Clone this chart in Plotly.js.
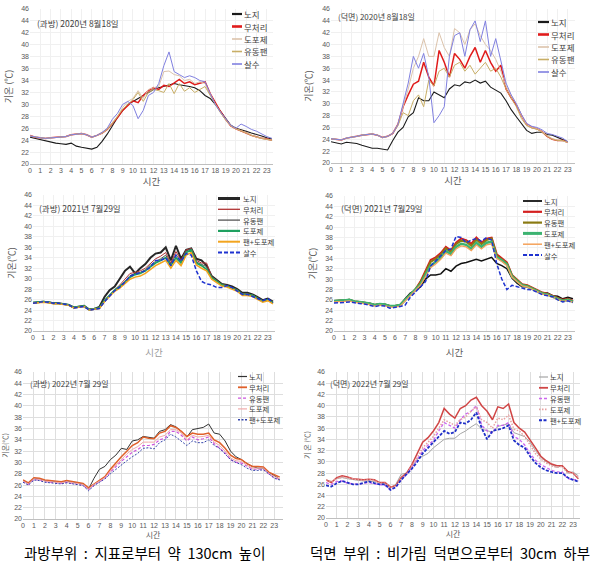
<!DOCTYPE html>
<html><head><meta charset="utf-8">
<script src="https://cdn.plot.ly/plotly-3.0.1.min.js"></script>
<style>html,body{margin:0;padding:0;background:#fff}#chart{width:597px;height:565px}</style>
</head><body><div id="chart"></div>
<script>
// ---------- DATA ----------
const hours = [0,0.5,1,1.5,2,2.5,3,3.5,4,4.5,5,5.5,6,6.5,7,7.5,8,8.5,9,9.5,10,10.5,11,11.5,12,12.5,13,13.5,14,14.5,15,15.5,16,16.5,17,17.5,18,18.5,19,19.5,20,20.5,21,21.5,22,22.5,23,23.5];
const xTicks = [0,1,2,3,4,5,6,7,8,9,10,11,12,13,14,15,16,17,18,19,20,21,22,23];
const yTicks = [20,22,24,26,28,30,32,34,36,38,40,42,44,46];

// 2020-08-18 과방
const c1Names = ['노지','무처리','도포제','유동팬','살수'];
const c1_noji = [24.5,24.3,24.0,23.8,23.6,23.5,23.4,23.3,23.5,23.0,22.8,22.7,22.5,22.8,23.8,25.0,26.5,27.8,29.0,30.0,30.5,31.0,31.5,32.0,32.5,32.8,33.0,33.2,33.5,33.3,33.2,33.0,32.8,32.3,31.5,31.0,30.0,28.8,27.5,26.5,26.0,25.8,25.5,25.2,25.0,24.7,24.4,24.2];
const c1_red  = [24.8,24.5,24.4,24.3,24.4,24.5,24.6,24.6,24.9,25.0,25.1,24.9,24.5,24.8,25.2,25.8,26.8,27.8,29.0,29.8,30.6,30.3,31.5,32.3,32.8,32.5,33.2,33.0,33.6,34.2,33.5,33.8,33.3,33.5,33.8,31.8,30.2,28.8,27.5,26.4,25.9,25.6,25.2,24.8,24.5,24.3,24.2,24.0];
const c1_dopo = [24.7,24.5,24.4,24.3,24.4,24.5,24.6,24.6,24.9,25.0,25.1,24.9,24.5,24.8,25.2,25.8,27.0,28.0,29.5,30.5,31.0,32.3,31.0,32.5,32.8,33.0,35.5,35.6,35.0,34.8,34.0,34.2,33.5,33.8,33.5,31.8,30.0,28.7,27.4,26.4,25.9,25.6,25.2,24.8,24.5,24.3,24.1,24.0];
const c1_fan  = [24.7,24.5,24.4,24.3,24.4,24.5,24.6,24.6,24.9,25.0,25.1,24.9,24.5,24.8,25.2,25.8,26.8,28.0,29.2,30.0,30.8,32.0,30.5,32.0,32.5,32.3,32.0,33.5,31.8,33.5,32.2,32.8,32.0,32.5,33.0,31.5,30.0,28.6,27.4,26.4,25.9,25.6,25.2,24.8,24.5,24.3,24.1,24.0];
const c1_sal  = [24.7,24.5,24.4,24.3,24.4,24.5,24.6,24.6,24.9,25.0,25.1,24.9,24.5,24.8,25.3,26.0,27.5,28.5,30.0,30.5,29.8,27.6,29.0,31.5,32.0,33.5,36.5,38.8,35.5,35.0,34.5,34.8,34.5,34.0,33.8,31.8,30.0,28.7,27.5,26.5,26.0,26.7,26.3,25.8,25.5,25.0,24.6,24.3];

// 2020-08-18 덕면
const c2Names = ['노지','무처리','도포제','유동팬','살수'];
const c2_noji = [23.6,23.4,23.2,23.5,23.4,23.3,23.0,22.8,22.5,22.5,22.4,22.2,23.8,25.2,26.0,27.8,28.5,31.0,30.5,30.5,32.0,31.5,31.0,32.5,33.2,33.0,33.7,33.5,34.0,33.5,33.8,32.8,32.3,31.8,30.5,29.0,27.8,26.6,25.5,25.0,25.2,25.2,24.8,24.7,24.3,24.0,23.6,null];
const c2_red  = [24.1,24.0,23.9,24.2,24.3,24.5,24.7,24.8,24.9,24.7,24.3,24.5,25.0,26.5,29.5,31.5,33.3,33.8,37.0,34.5,33.0,39.0,37.0,34.5,38.5,37.5,36.0,38.0,39.5,37.0,39.0,37.0,35.5,36.5,32.5,31.0,29.8,28.0,26.5,26.0,25.8,25.3,24.5,24.0,23.8,23.8,23.5,null];
const c2_dopo = [24.1,24.0,23.9,24.2,24.3,24.5,24.7,24.8,24.9,24.7,24.3,24.5,25.0,26.5,29.5,32.5,36.0,38.0,41.0,38.0,38.0,42.0,39.5,38.0,42.7,42.0,40.0,42.5,43.5,41.5,40.0,39.0,37.5,35.5,33.0,31.5,30.0,28.0,26.5,26.0,25.8,25.3,24.6,24.1,23.9,23.8,23.5,null];
const c2_fan  = [24.1,24.0,23.9,24.2,24.3,24.5,24.7,24.8,24.9,24.7,24.3,24.5,25.0,26.3,28.5,28.0,30.5,31.5,29.5,34.0,33.0,35.5,36.0,34.5,36.5,37.0,35.5,36.5,35.0,36.0,37.0,35.5,36.0,34.5,32.5,31.0,29.5,27.5,26.3,25.9,25.7,25.2,24.5,24.0,23.8,23.8,23.5,null];
const c2_sal  = [24.1,24.0,23.9,24.2,24.3,24.5,24.7,24.8,24.9,24.7,24.3,24.5,25.0,26.5,30.0,33.5,38.0,36.0,38.5,34.5,26.8,28.0,29.5,38.0,41.5,42.0,38.0,42.5,44.0,40.5,44.0,38.0,41.0,37.5,33.5,31.5,30.0,28.2,26.7,26.2,26.0,25.6,25.0,24.8,24.5,24.2,23.6,null];

// 2021-07-29 과방
const c3Names = ['노지','무처리','유동팬','도포제','팬+도포제','살수'];
const c3_noji = [25.4,25.5,25.6,25.5,25.3,25.3,25.2,25.0,24.5,24.7,24.8,24.1,24.2,24.6,26.5,27.8,28.5,30.0,31.5,32.3,31.0,32.0,32.8,34.0,34.8,35.0,36.0,33.5,36.3,33.8,35.5,35.8,33.8,33.5,32.5,30.5,29.8,29.0,28.8,28.5,28.0,27.3,27.3,27.0,26.5,25.9,26.2,25.6];
const c3_red  = [25.4,25.5,25.6,25.5,25.3,25.3,25.2,25.0,24.5,24.7,24.8,24.1,24.2,24.4,25.8,26.9,27.9,28.8,29.8,31.0,31.2,31.5,32.0,33.0,33.8,34.3,35.0,33.0,35.2,33.5,35.5,35.8,33.5,33.0,33.0,30.4,29.7,28.9,28.7,28.3,27.9,27.1,27.1,26.9,26.4,25.8,26.1,25.5];
const c3_fan  = [25.4,25.5,25.6,25.5,25.3,25.3,25.2,25.0,24.5,24.7,24.8,24.1,24.2,24.4,25.8,26.8,27.8,28.6,29.5,30.6,31.0,31.2,31.7,32.6,33.3,33.8,34.5,32.8,34.6,33.2,35.3,35.7,33.2,32.7,32.3,30.3,29.6,28.8,28.6,28.2,27.8,27.0,27.0,26.8,26.3,25.7,26.0,25.4];
const c3_dopo = [25.4,25.5,25.6,25.5,25.3,25.3,25.2,25.0,24.5,24.7,24.8,24.1,24.2,24.4,25.8,26.8,27.8,28.5,29.3,30.3,30.8,31.0,31.5,32.3,33.0,33.5,34.0,32.5,34.0,33.0,35.0,35.5,33.0,32.5,31.8,30.2,29.5,28.8,28.6,28.2,27.8,27.0,27.0,26.8,26.3,25.7,26.0,25.4];
const c3_fd   = [25.3,25.4,25.5,25.4,25.2,25.2,25.1,24.9,24.4,24.6,24.7,24.0,24.1,24.3,25.6,26.6,27.6,28.2,29.0,29.9,30.3,30.5,31.0,31.8,32.5,33.0,33.5,32.0,33.5,32.5,34.5,35.0,32.6,32.0,31.5,29.9,29.3,28.6,28.4,28.0,27.6,26.8,26.8,26.6,26.1,25.5,25.8,25.2];
const c3_sal  = [25.3,25.4,25.6,25.5,25.3,25.3,25.2,25.0,24.4,24.6,24.7,24.0,24.1,24.3,25.6,26.7,27.7,28.4,29.3,30.5,30.8,31.2,31.5,32.2,33.5,33.5,34.0,32.5,34.5,33.3,34.8,34.5,31.5,29.5,29.0,28.8,28.3,28.3,28.7,28.3,27.7,27.0,27.0,26.6,26.2,25.8,26.2,25.4];

// 2021-07-29 덕면
const c4Names = ['노지','무처리','유동팬','도포제','팬+도포제','살수'];
const c4_noji = [25.8,25.8,25.9,26.0,25.7,25.6,25.5,25.3,25.0,25.2,25.1,24.8,24.8,25.0,26.2,27.3,27.8,28.5,30.0,30.8,30.8,31.0,32.0,31.5,32.5,33.0,33.2,33.5,33.8,33.5,33.8,34.2,33.0,32.6,32.0,30.2,29.2,28.5,28.5,28.0,27.6,27.3,27.3,26.8,26.7,26.2,26.5,26.2];
const c4_red  = [25.8,25.8,25.9,26.0,25.7,25.6,25.5,25.3,25.0,25.2,25.1,24.8,24.8,25.0,26.0,27.0,28.0,29.5,31.5,33.7,34.2,35.0,36.2,35.5,37.0,37.8,37.5,36.8,38.0,37.0,37.8,38.0,34.8,34.0,33.2,30.8,29.8,29.0,28.8,28.3,27.8,27.4,27.2,26.8,26.5,26.0,26.2,25.8];
const c4_fan  = [25.8,25.8,25.9,26.0,25.7,25.6,25.5,25.3,25.0,25.2,25.1,24.8,24.8,25.0,26.0,27.0,28.0,29.3,31.2,33.3,33.9,34.7,35.9,35.2,36.7,37.4,37.2,36.4,37.6,36.7,37.5,37.8,34.5,33.8,33.0,30.7,29.7,28.9,28.7,28.2,27.7,27.3,27.1,26.7,26.4,25.9,26.1,25.7];
const c4_dopo = [25.8,25.8,25.9,26.0,25.7,25.6,25.5,25.3,25.0,25.2,25.1,24.8,24.8,25.0,26.0,27.0,28.0,29.0,30.8,32.6,33.3,34.2,35.4,34.8,36.2,36.8,36.6,35.8,37.0,36.2,37.0,37.2,34.2,33.6,32.8,30.5,29.6,28.8,28.6,28.1,27.6,27.2,27.0,26.6,26.3,25.8,26.0,25.6];
const c4_fd   = [25.6,25.6,25.7,25.8,25.5,25.4,25.3,25.1,24.8,25.0,24.9,24.6,24.6,24.8,25.8,26.8,27.8,28.8,30.5,32.2,32.9,33.8,35.0,34.5,35.8,36.4,36.2,35.5,36.6,35.8,36.6,36.8,34.0,33.4,32.6,30.4,29.5,28.7,28.5,28.0,27.5,27.1,26.9,26.5,26.2,25.7,25.9,25.5];
const c4_sal  = [25.4,25.4,25.5,25.6,25.4,25.3,25.2,25.0,24.7,24.9,24.8,24.4,24.5,24.7,25.0,26.5,27.5,28.5,29.5,32.5,33.5,34.5,35.5,35.8,38.2,38.0,37.0,37.5,37.8,37.3,38.0,37.5,33.0,30.0,28.0,28.8,28.5,28.2,28.0,27.9,27.5,27.0,26.8,26.6,26.0,25.6,25.8,25.5];

// 2022-07-29 과방
const c5Names = ['노지','무처리','유동팬','도포제','팬+도포제'];
const c5_noji = [26.8,26.3,27.2,27.1,26.8,26.7,26.6,26.5,26.7,26.5,26.3,26.2,25.3,27.2,28.8,29.3,30.5,31.3,32.5,32.3,33.8,34.0,34.6,34.5,34.3,35.5,35.8,36.7,36.3,35.5,34.5,35.8,36.0,36.2,36.8,35.2,35.0,33.8,32.0,31.0,30.5,29.8,29.3,29.0,29.0,28.2,27.7,27.0];
const c5_red  = [26.9,26.4,27.3,27.2,26.9,26.8,26.7,26.6,26.8,26.6,26.4,26.3,25.5,26.2,26.8,27.5,28.8,30.0,31.0,32.0,33.0,33.5,34.5,34.3,34.2,35.2,35.5,36.5,36.2,35.5,34.6,35.2,35.0,35.0,35.2,34.0,33.5,32.5,31.3,30.7,30.5,29.8,29.3,29.3,29.2,28.3,27.8,27.4];
const c5_fan  = [26.6,26.1,27.0,26.9,26.6,26.5,26.4,26.3,26.5,26.3,26.1,26.0,25.2,26.0,26.6,27.2,28.3,29.3,30.2,31.0,31.8,32.3,33.0,33.0,33.2,34.0,34.3,35.5,35.5,34.8,33.8,34.5,34.0,34.2,34.5,33.3,32.5,31.7,30.5,30.0,29.9,29.3,28.8,28.8,28.8,28.0,27.3,27.0];
const c5_dopo = [26.7,26.2,27.1,27.0,26.7,26.6,26.5,26.4,26.6,26.4,26.2,26.1,25.3,26.1,26.7,27.3,28.5,29.6,30.5,31.5,32.3,32.8,33.6,33.6,33.6,34.5,34.8,35.8,35.8,35.2,34.0,34.8,34.5,34.6,34.8,33.6,33.0,32.0,30.8,30.3,30.2,29.5,29.0,29.0,29.0,28.1,27.5,27.1];
const c5_fd   = [26.5,26.0,26.9,26.8,26.5,26.4,26.3,26.2,26.4,26.2,26.0,25.9,25.0,25.9,26.5,27.1,28.0,28.8,29.5,30.3,31.0,31.6,32.5,32.6,32.4,33.5,34.0,35.0,34.5,33.8,33.0,33.8,33.5,33.5,34.0,33.0,32.5,31.5,30.5,30.0,29.6,29.0,28.6,28.6,28.7,28.0,27.2,26.9];

// 2022-07-29 덕면
const c6Names = ['노지','무처리','유동팬','도포제','팬+도포제'];
const c6_noji = [26.8,26.5,27.0,27.2,27.0,26.8,26.7,26.6,26.6,26.5,26.3,26.0,25.3,26.0,27.8,28.0,29.0,30.5,31.0,31.5,32.5,33.3,34.0,34.2,34.2,35.0,35.5,36.2,36.8,35.8,35.5,35.3,36.3,36.5,36.8,35.2,34.8,34.5,33.5,32.0,30.8,30.0,29.5,29.0,29.3,28.0,28.2,27.5];
const c6_red  = [26.8,26.3,27.2,27.5,27.3,27.0,26.9,26.8,26.9,26.8,26.3,26.3,25.5,25.8,27.2,28.0,29.5,31.5,33.5,34.3,35.5,37.0,39.5,38.5,37.8,39.5,40.0,41.0,41.5,40.0,39.0,37.5,39.8,39.5,40.3,37.0,36.0,35.3,34.0,32.5,31.0,30.2,29.6,29.3,29.3,28.3,28.0,27.0];
const c6_fan  = [26.3,26.0,26.5,26.6,26.2,26.1,26.0,26.2,26.3,26.1,26.0,25.8,25.0,25.5,26.8,27.8,29.0,30.5,32.0,33.0,33.8,35.5,37.0,36.5,36.0,37.5,38.5,39.0,40.0,36.5,35.5,35.2,36.5,36.5,37.0,34.5,34.0,33.0,31.5,30.3,29.5,29.0,28.5,28.2,28.2,27.0,26.9,26.6];
const c6_dopo = [26.8,26.5,27.0,27.3,27.1,26.9,26.8,26.7,26.8,26.7,26.2,26.2,25.4,25.7,27.0,27.8,29.2,30.8,32.5,33.5,34.5,36.0,37.5,37.0,36.5,37.5,38.0,39.0,39.8,37.5,37.0,36.0,37.8,37.5,38.3,35.8,35.5,34.5,33.0,31.5,30.5,29.8,29.3,29.0,29.2,28.0,28.0,27.2];
const c6_fd   = [25.8,25.6,26.2,26.6,26.3,26.0,26.0,26.3,26.5,26.2,26.0,26.0,25.0,25.5,26.8,27.8,28.8,30.0,31.5,32.5,33.5,34.5,35.5,35.0,35.3,37.0,36.8,37.5,38.8,36.0,34.0,35.5,35.8,36.0,36.5,33.8,33.0,32.5,31.0,29.8,29.0,28.5,28.2,28.0,28.0,27.2,26.8,26.5];

const chartTitles = ['(과방) 2020년 8월18일','(덕면) 2020년 8월18일','(과방) 2021년 7월29일','(덕면) 2021년 7월29일','(과방) 2022년 7월 29일','(덕면) 2022년 7월 29일'];
const yTitles = ['기온 (℃)','기온(℃)','기온(℃)','기온(℃)','기온(℃)','기 온 (℃)'];
const xTitle = '시간';
const captions = ['과방부위&nbsp; :&nbsp; 지표로부터&nbsp; 약&nbsp; 130cm&nbsp; 높이','덕면&nbsp; 부위&nbsp; :&nbsp; 비가림&nbsp; 덕면으로부터&nbsp; 30cm&nbsp; 하부'];

// ---------- STYLE / LAYOUT ----------
const W = 597, H = 565;
const FONT = '"Noto Sans CJK KR", "Noto Sans", sans-serif';
const s12 = [
  {color:'#1a1a1a', width:1.1, lw:2.2},
  {color:'#e01b1b', width:1.5, lw:2.6},
  {color:'#dcc3ab', width:1, lw:1.6},
  {color:'#c8ae66', width:1, lw:1.6},
  {color:'#8080e0', width:1, lw:1.6}
];
const charts = [
  {box:[30,9,273,164], xmax:23.6, names:c1Names, data:[c1_noji,c1_red,c1_dopo,c1_fan,c1_sal], styles:s12,
   title:[36,23,8.5], leg:{x0:232,x1:242,tx:243,ys:[14,26.5,39,51.5,64],size:8.5}, grid:'#f0f0f0',
   yt:{size:9, standoff:7, color:'#595959'}, xt:{size:9.5, standoff:3, color:'#595959'}},
  {box:[331,9,575,163], xmax:23.7, names:c2Names, data:[c2_noji,c2_red,c2_dopo,c2_fan,c2_sal], styles:s12,
   title:[337,17,8], leg:{x0:538,x1:549,tx:550,ys:[22,34.5,47,59.5,72],size:8.5}, grid:'#f0f0f0',
   yt:{size:9, standoff:8, color:'#595959'}, xt:{size:9.5, standoff:3, color:'#595959'}},
  {box:[33,195,275,331], xmax:23.7, names:c3Names, data:[c3_noji,c3_red,c3_fan,c3_dopo,c3_fd,c3_sal],
   styles:[{color:'#262626',width:2,lw:3},{color:'#b03434',width:1,lw:1.3},{color:'#555555',width:1,lw:1.3},
           {color:'#1fa060',width:1.8,lw:2.2},{color:'#f2a41e',width:1.5,lw:2},{color:'#1f33d0',width:1.5,lw:1.8,dash:'4px,2px'}],
   title:[38,208,8.5], leg:{x0:218,x1:240,tx:242,ys:[198.5,209.3,220.1,230.9,241.7,252.5],size:7.4}, grid:'#f0f0f0',
   yt:{size:9, standoff:7, color:'#595959'}, xt:{size:9.5, standoff:8, color:'#9a9a9a'}},
  {box:[334,196,575,331], xmax:23.7, names:c4Names, data:[c4_noji,c4_red,c4_fan,c4_dopo,c4_fd,c4_sal],
   styles:[{color:'#111111',width:1.5,lw:1.8},{color:'#d42020',width:2,lw:2.2},{color:'#8a7a12',width:2,lw:2.2},
           {color:'#3cb371',width:2.5,lw:3},{color:'#f5a25a',width:1.3,lw:1.5},{color:'#1f33d0',width:1.5,lw:1.8,dash:'4px,2px'}],
   title:[340,208,8.5], leg:{x0:523,x1:542,tx:543,ys:[201,211.8,222.6,233.4,244.2,255],size:7.4}, grid:'#f0f0f0',
   yt:{size:9, standoff:7, color:'#595959'}, xt:{size:9.5, standoff:8, color:'#595959'}},
  {box:[23,372,283,519], xmax:23.8, names:c5Names, data:[c5_noji,c5_red,c5_fan,c5_dopo,c5_fd],
   styles:[{color:'#333333',width:1,lw:1.2},{color:'#e0602a',width:1.5,lw:1.8},{color:'#cc55dd',width:1.2,lw:1.4,dash:'3px,2px'},
           {color:'#f0aaaa',width:1,lw:1.2},{color:'#3344aa',width:1,lw:1.4,dash:'2px,1.5px'}],
   title:[29,383,8], leg:{x0:238,x1:247,tx:248,ys:[376.5,387.3,398.1,408.9,419.7],size:7.4}, grid:'#dedede',
   yt:{size:7, standoff:5, color:'#595959'}, xt:{size:8, standoff:2, color:'#595959'}},
  {box:[326,372,580,518], xmax:23.65, names:c6Names, data:[c6_noji,c6_red,c6_fan,c6_dopo,c6_fd],
   styles:[{color:'#a6a6a6',width:1,lw:1.2},{color:'#d04545',width:1.5,lw:1.8},{color:'#cc66ee',width:1.3,lw:1.5,dash:'3px,2px'},
           {color:'#e6a0a0',width:1.5,lw:1.8,dash:'1.5px,1.5px'},{color:'#1f2fc8',width:1.8,lw:2,dash:'3px,1.5px'}],
   title:[329,383,8], leg:{x0:539,x1:548,tx:549,ys:[377,387.8,398.6,409.4,420.2],size:7.4}, grid:'#dedede',
   yt:{size:7, standoff:5, color:'#595959'}, xt:{size:8, standoff:2, color:'#595959'}}
];

const px = v => v / W, py = v => 1 - v / H;
const traces = [], shapes = [], annotations = [];
const layout = {
  width: W, height: H, margin:{l:0,r:0,t:0,b:0}, showlegend:false,
  paper_bgcolor:'#ffffff', plot_bgcolor:'#ffffff', font:{family:FONT, color:'#404040'}
};

charts.forEach((c, i) => {
  const n = i + 1, xa = 'x' + (n === 1 ? '' : n), ya = 'y' + (n === 1 ? '' : n);
  const xk = 'xaxis' + (n === 1 ? '' : n), yk = 'yaxis' + (n === 1 ? '' : n);
  const [l, t, r, b] = c.box;
  layout[xk] = {
    domain:[px(l), px(r)], anchor:ya, range:[0, c.xmax], tickmode:'array', tickvals:xTicks,
    tickfont:{size:7, color:'#595959', family:'"Liberation Sans", Arial, sans-serif'},
    showgrid:true, gridcolor:c.grid, gridwidth:1, zeroline:false, showline:true, linecolor:'#bfbfbf', linewidth:1,
    ticks:'', fixedrange:true,
    title:{text:xTitle, font:{size:c.xt.size, color:c.xt.color, family:FONT}, standoff:c.xt.standoff}
  };
  layout[yk] = {
    domain:[py(b), py(t)], anchor:xa, range:[20, 46], tickmode:'array', tickvals:yTicks,
    tickfont:{size:7, color:'#595959', family:'"Liberation Sans", Arial, sans-serif'},
    showgrid:true, gridcolor:c.grid, gridwidth:1, zeroline:false, showline:false, ticks:'', fixedrange:true,
    title:{text:yTitles[i], font:{size:c.yt.size, color:c.yt.color, family:FONT}, standoff:c.yt.standoff}
  };
  c.data.forEach((vals, k) => {
    const st = c.styles[k];
    traces.push({
      type:'scatter', mode:'lines', x:hours, y:vals, name:c.names[k], xaxis:xa, yaxis:ya,
      line:{color:st.color, width:st.width, dash:st.dash || 'solid'}, connectgaps:false, hoverinfo:'x+y+name'
    });
    const yy = c.leg.ys[k];
    shapes.push({type:'line', xref:'paper', yref:'paper', x0:px(c.leg.x0), x1:px(c.leg.x1), y0:py(yy), y1:py(yy),
      line:{color:st.color, width:st.lw, dash:st.dash || 'solid'}});
    annotations.push({xref:'paper', yref:'paper', x:px(c.leg.tx), y:py(yy), xanchor:'left', yanchor:'middle',
      text:c.names[k], showarrow:false, borderpad:0, font:{size:c.leg.size, color:'#404040', family:FONT}});
  });
  annotations.push({xref:'paper', yref:'paper', x:px(c.title[0]), y:py(c.title[1]), xanchor:'left', yanchor:'middle',
    text:chartTitles[i], showarrow:false, borderpad:0, font:{size:c.title[2], color:'#404040', family:FONT}});
});

annotations.push({xref:'paper', yref:'paper', x:px(145), y:py(552), xanchor:'center', yanchor:'middle',
  text:captions[0], showarrow:false, font:{size:14.5, color:'#000000', family:FONT}});
annotations.push({xref:'paper', yref:'paper', x:px(450), y:py(552), xanchor:'center', yanchor:'middle',
  text:captions[1], showarrow:false, font:{size:14.5, color:'#000000', family:FONT}});

layout.shapes = shapes;
layout.annotations = annotations;

Plotly.newPlot('chart', traces, layout, {staticPlot:true, displayModeBar:false});
</script>
</body></html>
